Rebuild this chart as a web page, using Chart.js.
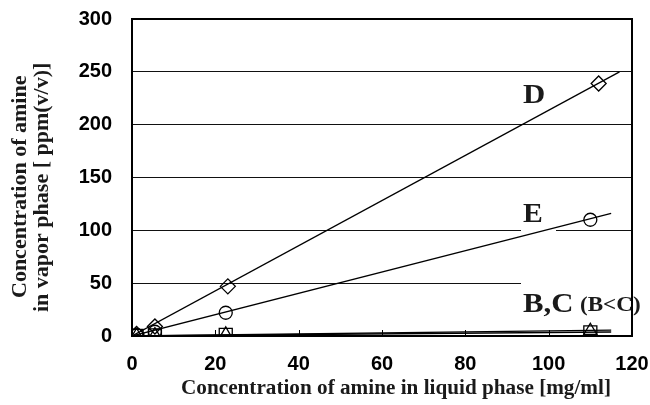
<!DOCTYPE html>
<html><head><meta charset="utf-8">
<script src="https://cdn.jsdelivr.net/npm/chart.js@4.4.1/dist/chart.umd.min.js"></script>
<style>html,body{margin:0;padding:0;background:#fff}#wrap{width:650px;height:405px}</style>
</head><body><div id="wrap"><canvas id="c" width="650" height="405"></canvas></div>
<script>
// ---- data ----
const dX = [1.1, 5.5, 23, 112];
const dY = [2, 9, 47, 239];
const eX = [1.1, 5.5, 22.5, 110];
const eY = [1, 4, 22, 110];
const bX = [1.1, 5.5, 22.5, 110];
const bY = [0.2, 0.5, 1, 3.5];
const cX = [1.1, 5.5, 22.5, 110];
const cY = [0.3, 0.8, 1.5, 5];
// trendline end points (x, y)
const trendDX = [0, 117], trendDY = [0, 250];
const trendEX = [0, 115], trendEY = [0, 116];
const trendBX = [0, 115], trendBY = [0, 3.8];
const trendCX = [0, 115], trendCY = [0, 5.6];
const xTicks = [0, 20, 40, 60, 80, 100, 120];
const yTicks = [0, 50, 100, 150, 200, 250, 300];
const seriesLabels = ['D', 'E', 'B', 'C'];
const xTitle = 'Concentration of amine in liquid phase [mg/ml]';
const yTitle = ['Concentration of amine', 'in vapor phase [ ppm(v/v)]'];

const pts = (xs, ys) => xs.map((x, i) => ({x, y: ys[i]}));
const markerDS = (label, xs, ys, style, r) => ({
  label, data: pts(xs, ys), showLine: false, pointStyle: style, pointRadius: r,
  pointBorderColor: '#000', pointBackgroundColor: 'rgba(255,255,255,0)', pointBorderWidth: 1.3, order: 1
});
const lineDS = (label, xs, ys) => ({
  label, data: pts(xs, ys), showLine: true, pointRadius: 0, borderColor: '#000',
  borderWidth: 1.3, fill: false, order: 2
});

const SERIF = '"Liberation Serif", "Times New Roman", serif';
const SANS = '"Liberation Sans", Arial, sans-serif';

function drawText(ctx, txt, x, y, font, align, stretch, rot) {
  ctx.save();
  ctx.translate(x, y);
  ctx.scale(stretch, 1);
  if (rot) ctx.rotate(rot);
  ctx.font = font; ctx.textAlign = align; ctx.textBaseline = 'alphabetic';
  ctx.fillStyle = '#1a1a1a';
  ctx.fillText(txt, 0, 0);
  ctx.restore();
}

const decor = {
  id: 'decor',
  beforeDatasetsDraw(chart) {
    const {ctx, chartArea: a, scales: {x}} = chart;
    ctx.save();
    // white label boxes hiding the grid lines behind labels E and B,C
    ctx.fillStyle = '#fff';
    ctx.fillRect(521, 196, 35, 38);
    ctx.fillRect(521, 281, a.right - 521 - 1, 36);
    // inner tick marks on x axis
    ctx.strokeStyle = '#000'; ctx.lineWidth = 1;
    xTicks.forEach(v => {
      const px = Math.round(x.getPixelForValue(v)) + 0.5;
      ctx.beginPath(); ctx.moveTo(px, a.bottom); ctx.lineTo(px, a.bottom - 6); ctx.stroke();
    });
    // top / right frame
    ctx.lineWidth = 2;
    ctx.beginPath();
    ctx.moveTo(a.left, a.top); ctx.lineTo(a.right, a.top); ctx.lineTo(a.right, a.bottom);
    ctx.stroke();
    ctx.restore();
  },
  afterDraw(chart) {
    const {ctx} = chart;
    drawText(ctx, 'D', 523, 103, 'bold 28px ' + SERIF, 'left', 1.1);
    drawText(ctx, 'E', 523, 222, 'bold 27px ' + SERIF, 'left', 1.1);
    drawText(ctx, 'B,C', 523, 312, 'bold 28px ' + SERIF, 'left', 1.1);
    drawText(ctx, '(B<C)', 580, 311, 'bold 21px ' + SERIF, 'left', 1.1);
    drawText(ctx, xTitle, 396, 394, 'bold 20px ' + SERIF, 'center', 1.06);
    drawText(ctx, yTitle[0], 26, 298, 'bold 22px ' + SERIF, 'left', 1, -Math.PI / 2);
    drawText(ctx, yTitle[1], 48, 312, 'bold 22px ' + SERIF, 'left', 1, -Math.PI / 2);
  }
};

new Chart(document.getElementById('c'), {
  type: 'scatter',
  data: {
    datasets: [
      lineDS('D fit', trendDX, trendDY),
      lineDS('E fit', trendEX, trendEY),
      lineDS('B fit', trendBX, trendBY),
      lineDS('C fit', trendCX, trendCY),
      markerDS(seriesLabels[0], dX, dY, 'rectRot', 7.5),
      markerDS(seriesLabels[1], eX, eY, 'circle', 6.5),
      markerDS(seriesLabels[2], bX, bY, 'rect', 9.2),
      markerDS(seriesLabels[3], cX, cY, 'triangle', 7.5)
    ]
  },
  options: {
    responsive: false, animation: false, devicePixelRatio: 1,
    layout: {padding: {left: 0, top: 19, right: 18, bottom: 0}},
    plugins: {legend: {display: false}, tooltip: {enabled: false}},
    scales: {
      x: {
        type: 'linear', min: 0, max: 120,
        afterFit: s => { s.height = 69; s.paddingLeft = 0; s.paddingRight = 0; },
        afterBuildTicks: s => { s.ticks = xTicks.map(v => ({value: v})); },
        grid: {display: false},
        border: {display: true, color: '#000', width: 2},
        ticks: {color: '#000', font: {family: SANS, size: 20, weight: 'bold'}, padding: 8, maxRotation: 0}
      },
      y: {
        type: 'linear', min: 0, max: 300,
        afterFit: s => { s.width = 132; s.paddingTop = 0; s.paddingBottom = 0; },
        afterBuildTicks: s => { s.ticks = yTicks.map(v => ({value: v})); },
        grid: {display: true, color: '#111', lineWidth: 1, drawTicks: false},
        border: {display: true, color: '#000', width: 2},
        ticks: {color: '#000', font: {family: SANS, size: 20, weight: 'bold'}, padding: 20}
      }
    }
  },
  plugins: [decor]
});
</script>
</body></html>
